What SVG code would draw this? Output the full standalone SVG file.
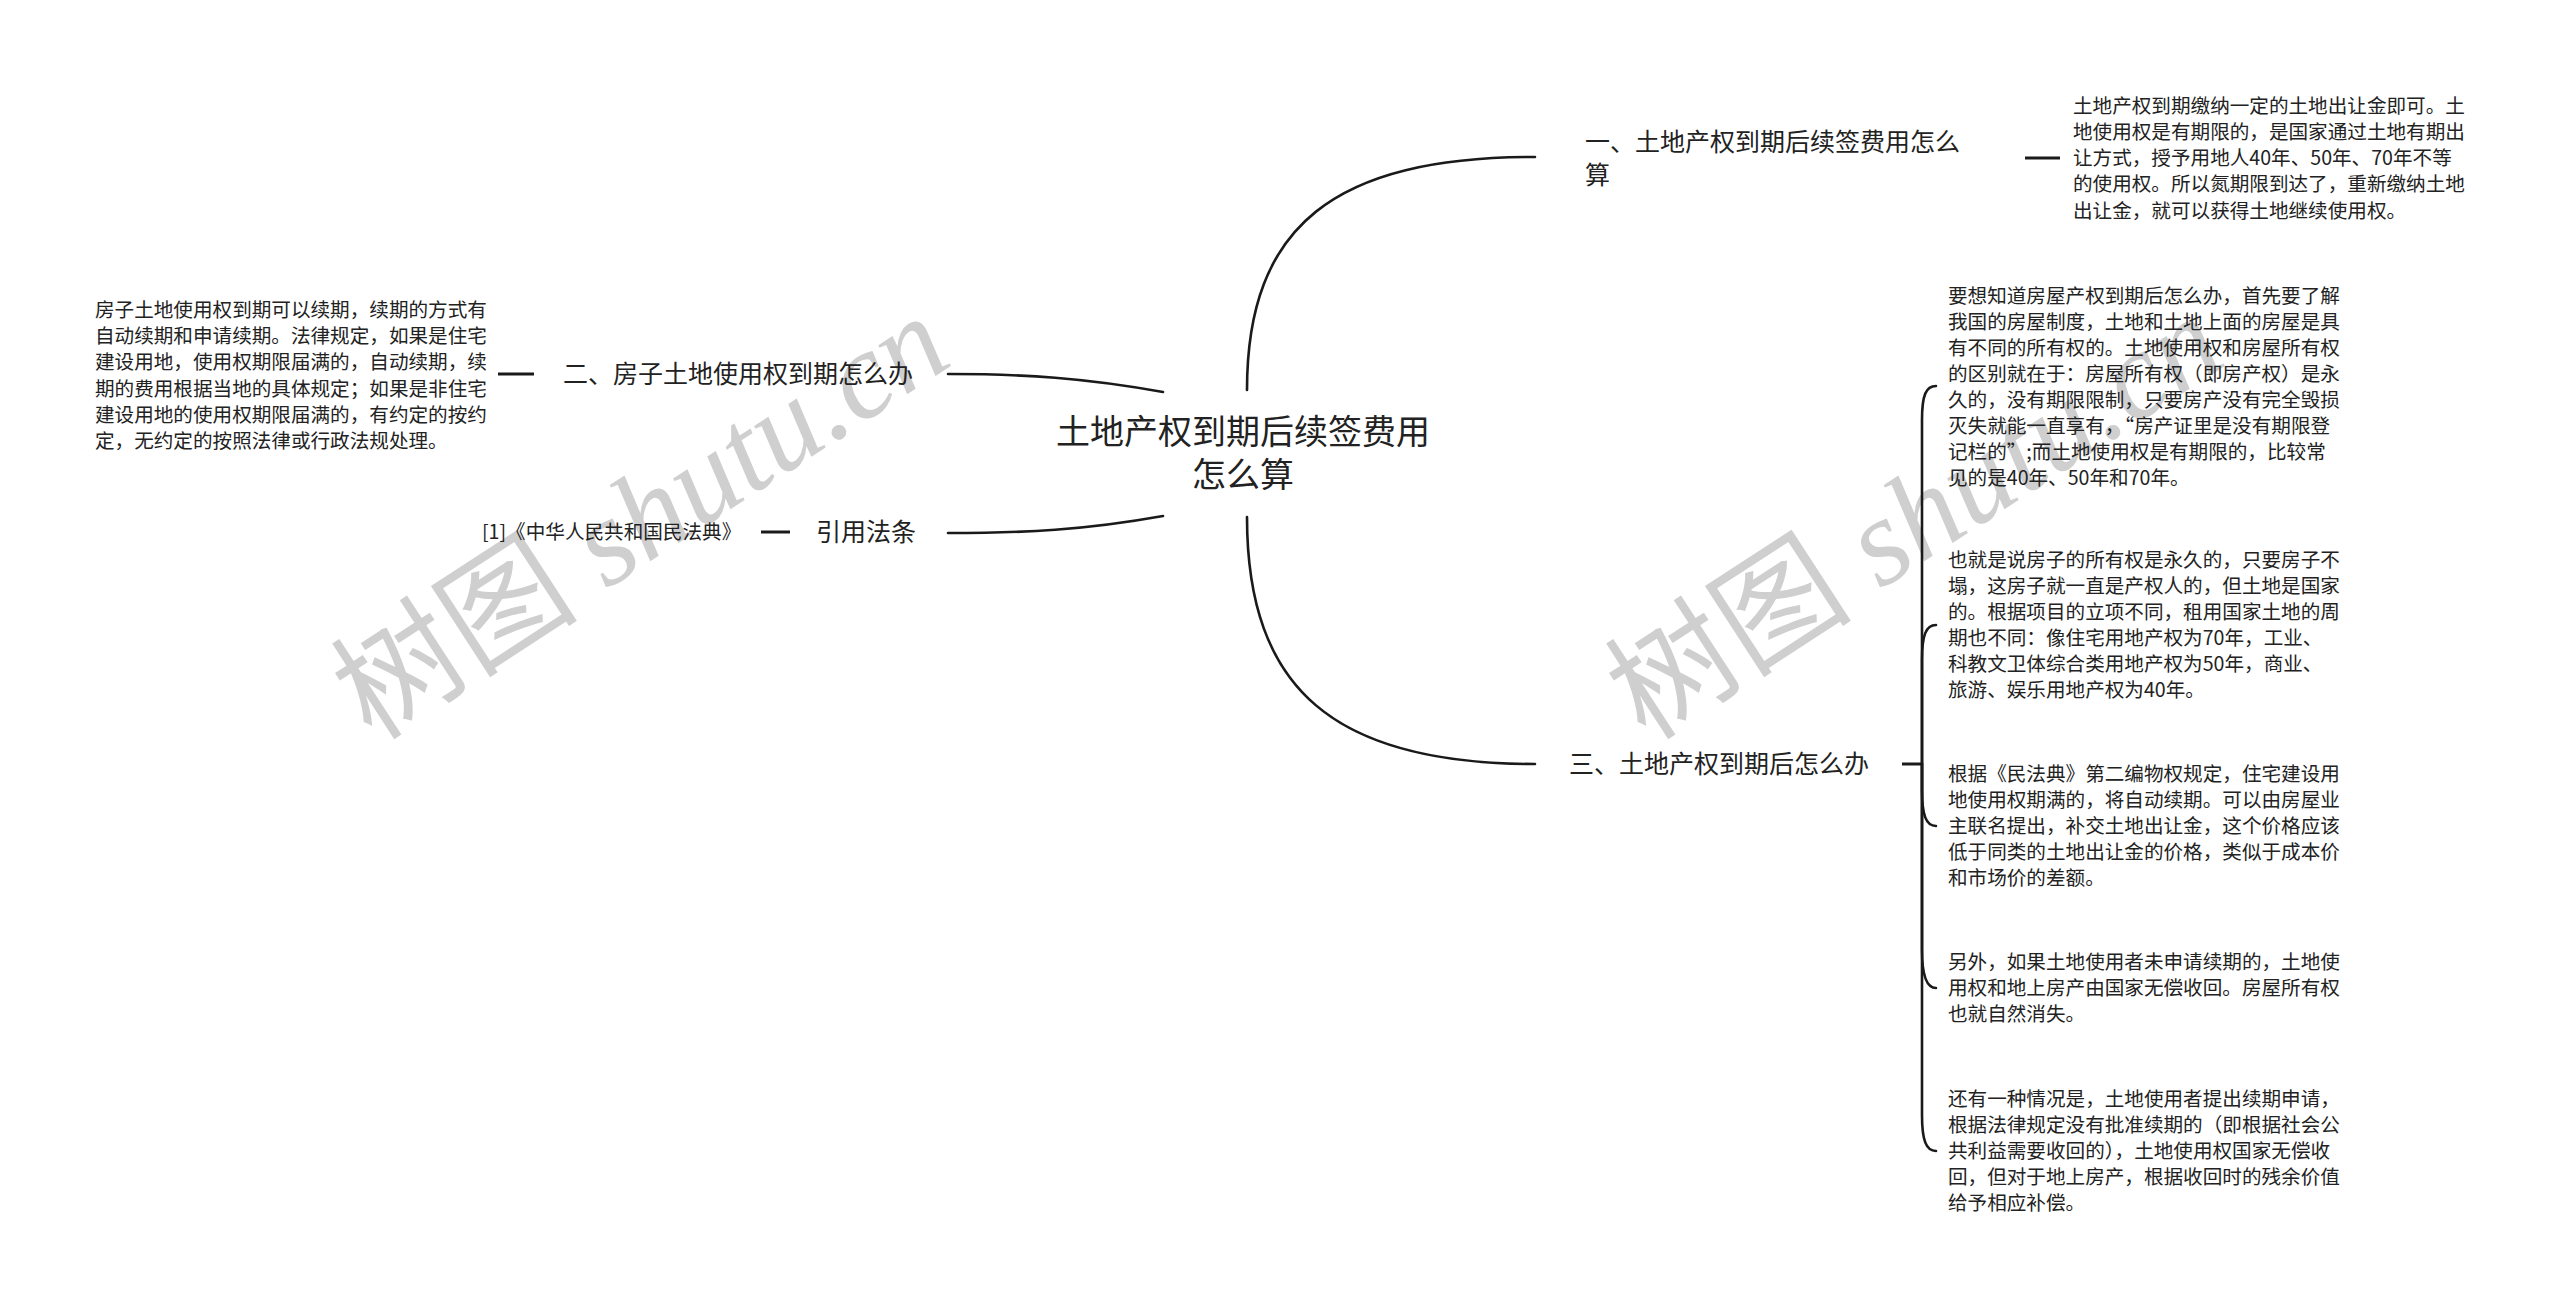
<svg xmlns="http://www.w3.org/2000/svg" width="2560" height="1308" viewBox="0 0 2560 1308">
<style>
.bg{fill:#ffffff}
.wm{font-family:"Liberation Serif","Noto Sans CJK SC",serif;font-style:italic;font-size:124px;fill:#cfcfcf}
.wmc{font-family:"Noto Sans CJK SC",serif;font-style:normal}
.root{font-family:"Noto Sans CJK SC","Noto Sans",sans-serif;font-size:34px;fill:#222;text-anchor:middle}
.n{font-family:"Noto Sans CJK SC","Noto Sans",sans-serif;font-size:25px;fill:#222}
.t{font-family:"Noto Sans CJK SC","Noto Sans",sans-serif;font-size:19.6px;fill:#222}
.c{fill:none;stroke:#1a1a1a;stroke-width:2.6;stroke-linecap:round}
.d{fill:none;stroke:#1a1a1a;stroke-width:3}
</style>
<rect class="bg" x="0" y="0" width="2560" height="1308"/>
<g id="watermarks">
<text class="wm" transform="translate(642,519) rotate(-33)" text-anchor="middle" x="0" y="40"><tspan class="wmc">树图</tspan> shutu.cn</text>
<text class="wm" transform="translate(1916,519) rotate(-33)" text-anchor="middle" x="0" y="40"><tspan class="wmc">树图</tspan> shutu.cn</text>
</g>
<g id="connectors">
<path class="c" d="M1247,390 C1247,225 1335,157 1535,157"/>
<path class="c" d="M1247,517 C1247,690 1335,764 1535,764"/>
<path class="c" d="M1163,392 C1085,378 1025,374 948,374"/>
<path class="c" d="M1163,516 C1085,530 1025,533 948,533"/>
<path class="d" d="M2025,158 L2060,158"/>
<path class="d" d="M498,374 L534,374"/>
<path class="d" d="M761,532 L790,532"/>
<path class="d" d="M1902,764 L1922,764"/>
<path class="c" d="M1922,764 L1922,420 C1922,395 1926,386 1936,386"/>
<path class="c" d="M1922,764 L1922,660 C1922,635 1926,625 1936,625"/>
<path class="c" d="M1922,764 L1922,790 C1922,815 1926,826 1936,826"/>
<path class="c" d="M1922,764 L1922,950 C1922,975 1926,988 1936,988"/>
<path class="c" d="M1922,764 L1922,1115 C1922,1140 1926,1151 1936,1151"/>
</g>
<g id="root">
<text class="root"><tspan x="1243" y="444">土地产权到期后续签费用</tspan><tspan x="1243" y="487">怎么算</tspan></text>
</g>
<g id="node1">
<text class="n"><tspan x="1585" y="151">一、土地产权到期后续签费用怎么</tspan><tspan x="1585" y="184">算</tspan></text>
</g>
<g id="node1-text">
<text class="t"><tspan x="2073" y="113">土地产权到期缴纳一定的土地出让金即可。土</tspan><tspan x="2073" y="139">地使用权是有期限的，是国家通过土地有期出</tspan><tspan x="2073" y="165">让方式，授予用地人40年、50年、70年不等</tspan><tspan x="2073" y="191">的使用权。所以氮期限到达了，重新缴纳土地</tspan><tspan x="2073" y="218">出让金，就可以获得土地继续使用权。</tspan></text>
</g>
<g id="node2">
<text class="n" x="563" y="383">二、房子土地使用权到期怎么办</text>
</g>
<g id="node2-text">
<text class="t"><tspan x="95" y="317">房子土地使用权到期可以续期，续期的方式有</tspan><tspan x="95" y="343">自动续期和申请续期。法律规定，如果是住宅</tspan><tspan x="95" y="369">建设用地，使用权期限届满的，自动续期，续</tspan><tspan x="95" y="396">期的费用根据当地的具体规定；如果是非住宅</tspan><tspan x="95" y="422">建设用地的使用权期限届满的，有约定的按约</tspan><tspan x="95" y="448">定，无约定的按照法律或行政法规处理。</tspan></text>
</g>
<g id="node-ref">
<text class="n" x="816" y="541">引用法条</text>
</g>
<g id="node-ref-text">
<text class="t" x="482" y="539">[1]《中华人民共和国民法典》</text>
</g>
<g id="node3">
<text class="n" x="1569" y="773">三、土地产权到期后怎么办</text>
</g>
<g id="node3-a">
<text class="t"><tspan x="1948" y="303">要想知道房屋产权到期后怎么办，首先要了解</tspan><tspan x="1948" y="329">我国的房屋制度，土地和土地上面的房屋是具</tspan><tspan x="1948" y="355">有不同的所有权的。土地使用权和房屋所有权</tspan><tspan x="1948" y="381">的区别就在于：房屋所有权（即房产权）是永</tspan><tspan x="1948" y="407">久的，没有期限限制，只要房产没有完全毁损</tspan><tspan x="1948" y="433">灭失就能一直享有，“房产证里是没有期限登</tspan><tspan x="1948" y="459">记栏的”;而土地使用权是有期限的，比较常</tspan><tspan x="1948" y="485">见的是40年、50年和70年。</tspan></text>
</g>
<g id="node3-b">
<text class="t"><tspan x="1948" y="567">也就是说房子的所有权是永久的，只要房子不</tspan><tspan x="1948" y="593">塌，这房子就一直是产权人的，但土地是国家</tspan><tspan x="1948" y="619">的。根据项目的立项不同，租用国家土地的周</tspan><tspan x="1948" y="645">期也不同：像住宅用地产权为70年，工业、</tspan><tspan x="1948" y="671">科教文卫体综合类用地产权为50年，商业、</tspan><tspan x="1948" y="697">旅游、娱乐用地产权为40年。</tspan></text>
</g>
<g id="node3-c">
<text class="t"><tspan x="1948" y="781">根据《民法典》第二编物权规定，住宅建设用</tspan><tspan x="1948" y="807">地使用权期满的，将自动续期。可以由房屋业</tspan><tspan x="1948" y="833">主联名提出，补交土地出让金，这个价格应该</tspan><tspan x="1948" y="859">低于同类的土地出让金的价格，类似于成本价</tspan><tspan x="1948" y="885">和市场价的差额。</tspan></text>
</g>
<g id="node3-d">
<text class="t"><tspan x="1948" y="969">另外，如果土地使用者未申请续期的，土地使</tspan><tspan x="1948" y="995">用权和地上房产由国家无偿收回。房屋所有权</tspan><tspan x="1948" y="1021">也就自然消失。</tspan></text>
</g>
<g id="node3-e">
<text class="t"><tspan x="1948" y="1106">还有一种情况是，土地使用者提出续期申请，</tspan><tspan x="1948" y="1132">根据法律规定没有批准续期的（即根据社会公</tspan><tspan x="1948" y="1158">共利益需要收回的），土地使用权国家无偿收</tspan><tspan x="1948" y="1184">回，但对于地上房产，根据收回时的残余价值</tspan><tspan x="1948" y="1210">给予相应补偿。</tspan></text>
</g>
</svg>
